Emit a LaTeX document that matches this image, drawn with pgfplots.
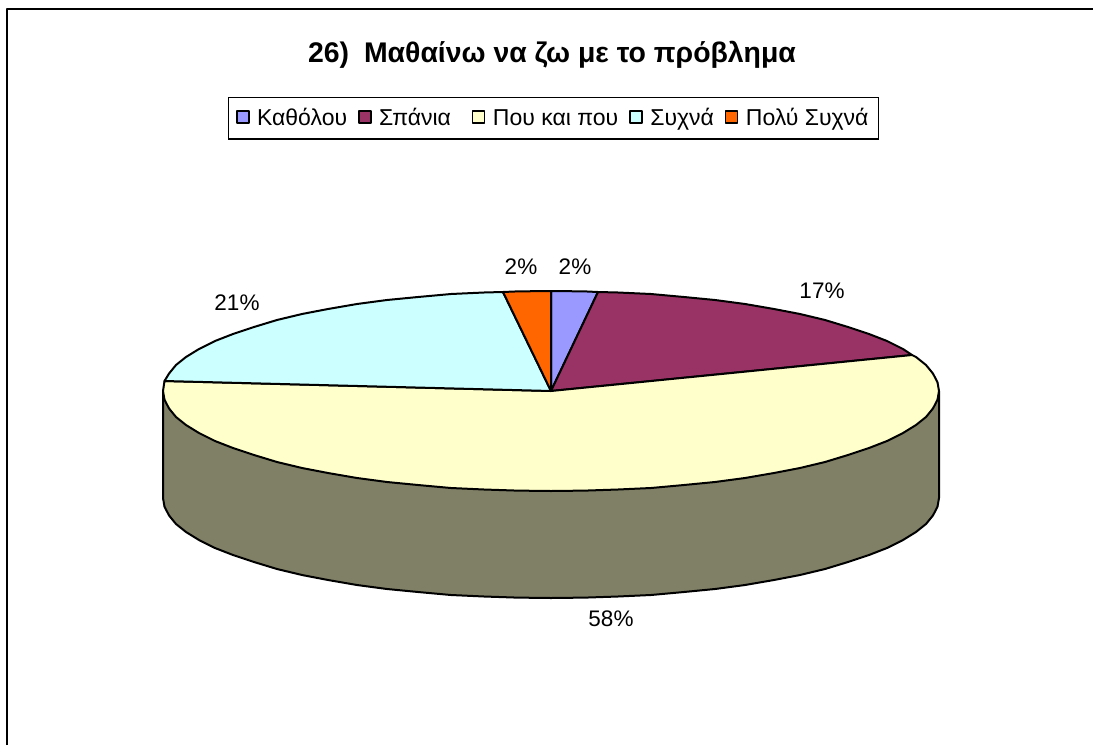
\documentclass[border=0pt]{standalone}
\usepackage{fontspec}
\setmainfont{Liberation Sans}
\usepackage{pgfplots}
\pgfplotsset{compat=1.18}

\definecolor{cKath}{HTML}{9999FF}
\definecolor{cSpan}{HTML}{993366}
\definecolor{cPou}{HTML}{FFFFCC}
\definecolor{cSyx}{HTML}{CCFFFF}
\definecolor{cPol}{HTML}{FF6600}
\definecolor{cSide}{HTML}{808066}

\begin{document}
\begin{tikzpicture}
\begin{axis}[
    scale only axis,
    width=1093pt,
    height=745pt,
    xmin=0, xmax=1093,
    ymin=0, ymax=745,
    y dir=reverse,
    hide axis,
    every axis plot/.append style={line width=2pt, line join=round},
    legend columns=5,
    legend cell align=left,
    legend style={
        at={(axis cs:227.5,96.5)},
        anchor=north west,
        draw=black,
        line width=1.2pt,
        inner xsep=8pt,
        inner ysep=9.5pt,
        font=\fontsize{23}{27}\selectfont,
        /tikz/every odd column/.append style={column sep=5.5pt},
        /tikz/every even column/.append style={column sep=9pt},
    },
    legend image code/.code={
        \draw[#1,line width=1.5pt] (0pt,-5pt) rectangle (12pt,7pt);
    },
]

% keeps the whole canvas in the page, hide axis would crop it
\path (axis cs:0,0) -- (axis cs:1093,745);

% chart border, open on the right and at the bottom
\addplot[forget plot, black, line width=2pt] coordinates {(7,745) (7,8.5) (1093,8.5)};

% side of the cake
\addplot[forget plot, draw=black, fill=cSide] coordinates {
    (939,391) (939,498) (937.5,506.7) (933,515.4) (926,524) (916,532) (903,540) (887,548)
    (869,555) (848,562) (825,569) (800,575) (774,580) (745,585) (715,589) (684,592)
    (651,595) (618,596.5) (585,597.6) (551,598) (517,597.6) (484,596.5) (451,595)
    (418,592) (387,589) (357,585) (328,580) (302,575) (277,569) (254,562) (233,555)
    (215,548) (199,540) (186,532) (176,524) (169,515.4) (164.5,506.7) (163,498) (163,391)
} --cycle;

% Kathólou
\addplot[draw=black, fill=cKath] coordinates {
    (551,391) (551,291) (585,291.4) (598,292)
} --cycle;
% Spánia
\addplot[draw=black, fill=cSpan] coordinates {
    (551,391) (598,292) (618,292.5) (651,294) (684,297) (715,300) (745,304) (774,309)
    (800,314) (825,320) (848,327) (869,334) (887,341) (903,349) (912,355)
} --cycle;
% Pou kai pou
\addplot[draw=black, fill=cPou] coordinates {
    (551,391) (912,355) (916,357) (926,365) (933,373.6) (937.5,382.3) (939,391)
    (937.5,399.7) (933,408.4) (926,417) (916,425) (903,433) (887,441) (869,448)
    (848,455) (825,462) (800,468) (774,473) (745,478) (715,482) (684,485) (651,488)
    (618,489.5) (585,490.6) (551,491) (517,490.6) (484,489.5) (451,488) (418,485)
    (387,482) (357,478) (328,473) (302,468) (277,462) (254,455) (233,448) (215,441)
    (199,433) (186,425) (176,417) (169,408.4) (164.5,399.7) (163,391) (164.5,381)
} --cycle;
% Syxná
\addplot[draw=black, fill=cSyx] coordinates {
    (551,391) (164.5,381) (169,373.6) (176,365) (186,357) (199,349) (215,341) (233,334)
    (254,327) (277,320) (302,314) (328,309) (357,304) (387,300) (418,297) (451,294)
    (484,292.5) (503,292)
} --cycle;
% Polý Syxná
\addplot[draw=black, fill=cPol] coordinates {
    (551,391) (503,292) (517,291.4) (551,291)
} --cycle;

\legend{Καθόλου, Σπάνια\hspace{10pt}\mbox{}, Που και που, Συχνά, Πολύ Συχνά}

\node[font=\bfseries\fontsize{28.4}{32}\selectfont] at (axis cs:552,55) {26)\hspace{7pt} Μαθαίνω να ζω με το πρόβλημα};

\node[font=\fontsize{22.5}{26}\selectfont] at (axis cs:521,267) {2\%};
\node[font=\fontsize{22.5}{26}\selectfont] at (axis cs:575,267) {2\%};
\node[font=\fontsize{22.5}{26}\selectfont] at (axis cs:822,291) {17\%};
\node[font=\fontsize{22.5}{26}\selectfont] at (axis cs:237,303) {21\%};
\node[font=\fontsize{22.5}{26}\selectfont] at (axis cs:611,619) {58\%};
\end{axis}
\end{tikzpicture}
\end{document}
